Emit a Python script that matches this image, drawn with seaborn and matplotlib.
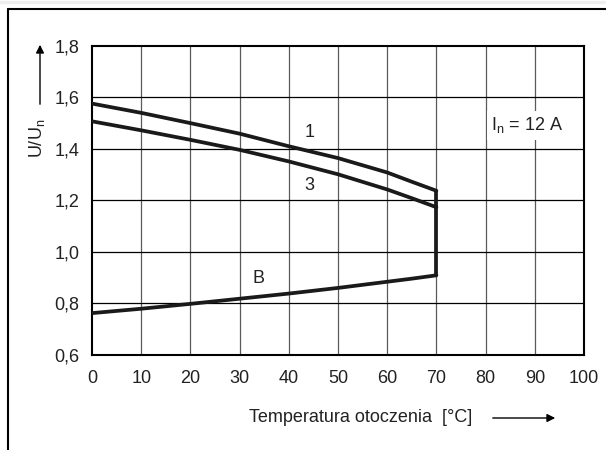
import numpy as np
import pandas as pd
import matplotlib
matplotlib.use("Agg")
import matplotlib.pyplot as plt
import seaborn as sns
from matplotlib.lines import Line2D

# ── Data ─────────────────────────────────────────────────────────────────────
temp    = [0, 10, 20, 30, 40, 50, 60, 65, 70]
curve_1 = [1.576, 1.540, 1.500, 1.459, 1.410, 1.364, 1.308, 1.272, 1.237]
curve_3 = [1.507, 1.472, 1.435, 1.396, 1.351, 1.301, 1.242, 1.208, 1.173]
curve_B = [0.761, 0.778, 0.797, 0.817, 0.837, 0.859, 0.883, 0.895, 0.908]

x_ticks = [0, 10, 20, 30, 40, 50, 60, 70, 80, 90, 100]
y_ticks = [0.6, 0.8, 1.0, 1.2, 1.4, 1.6, 1.8]

df = pd.DataFrame({
    "temp": temp * 3,
    "ratio": curve_1 + curve_3 + curve_B,
    "curve": ["1"] * len(temp) + ["3"] * len(temp) + ["B"] * len(temp),
})

FS = 13

# ── Figure ───────────────────────────────────────────────────────────────────
sns.set_theme(style="white")
plt.rcParams["font.family"] = ["Liberation Sans", "DejaVu Sans"]

fig = plt.figure(figsize=(6.06, 4.5), dpi=100)
ax = fig.add_axes([92 / 606, 1 - 354.5 / 450, 492 / 606, (354.5 - 46) / 450])

# vertical grid (gray) and horizontal grid (black)
for xv in x_ticks[1:-1]:
    ax.axvline(xv, color="#5a5a5a", lw=0.9, zorder=1)
for yv in y_ticks[1:-1]:
    ax.axhline(yv, color="black", lw=0.9, zorder=1)

sns.lineplot(data=df, x="temp", y="ratio", units="curve", estimator=None,
             color="#1a1a1a", lw=2.7, legend=False, ax=ax, zorder=3)
# vertical drop at 70 °C joining B to curve 1
ax.plot([temp[-1], temp[-1]], [curve_B[-1], curve_1[-1]],
        color="#1a1a1a", lw=2.7, zorder=3, solid_capstyle="butt")

ax.set_xlim(0, 100)
ax.set_ylim(0.6, 1.8)
ax.set_xticks(x_ticks)
ax.set_yticks(y_ticks)
ax.set_xticklabels([str(t) for t in x_ticks])
ax.set_yticklabels([f"{t:.1f}".replace(".", ",") for t in y_ticks])
ax.tick_params(axis="both", length=0, labelsize=FS, colors="#222222")
ax.tick_params(axis="x", pad=11)
ax.tick_params(axis="y", pad=9)
ax.set_xlabel("")
ax.set_ylabel("")
for s in ax.spines.values():
    s.set_color("black")
    s.set_linewidth(1.5)

# curve labels
ax.text(44.3, 1.465, "1", fontsize=FS, ha="center", va="center", color="#222222")
ax.text(44.1, 1.259, "3", fontsize=FS, ha="center", va="center", color="#222222")
ax.text(33.8, 0.897, "B", fontsize=FS, ha="center", va="center", color="#222222")
ax.text(88.5, 1.491, r"I$_\mathregular{n}$ = 12 A", fontsize=FS, ha="center",
        va="center", color="#222222", zorder=4,
        bbox=dict(facecolor="white", edgecolor="none", pad=3))

# axis titles with arrows
fig.text(37 / 606, 1 - 138 / 450, r"U/U$_\mathregular{n}$", rotation=90,
         fontsize=FS, ha="center", va="center", color="#222222")
fig.add_artist(plt.Annotation("", xy=(40 / 606, 1 - 42 / 450),
                              xytext=(40 / 606, 1 - 107 / 450),
                              xycoords="figure fraction",
                              arrowprops=dict(arrowstyle="-|>", color="black",
                                              lw=1, mutation_scale=12)))
fig.text(361 / 606, 1 - 417 / 450, "Temperatura otoczenia  [°C]",
         fontsize=FS, ha="center", va="center", color="#222222")
fig.add_artist(plt.Annotation("", xy=(558 / 606, 1 - 418 / 450),
                              xytext=(490 / 606, 1 - 418 / 450),
                              xycoords="figure fraction",
                              arrowprops=dict(arrowstyle="-|>", color="black",
                                              lw=1, mutation_scale=12)))

# outer frame and light top strip
fig.add_artist(Line2D([0, 1], [1 - 1.5 / 450, 1 - 1.5 / 450], color="#eeeeee", lw=2.5))
fig.add_artist(Line2D([8 / 606, 1], [1 - 9 / 450, 1 - 9 / 450], color="black", lw=1.5))
fig.add_artist(Line2D([8 / 606, 8 / 606], [0, 1 - 9 / 450], color="black", lw=1.5))

fig.savefig("out.png", dpi=100)
